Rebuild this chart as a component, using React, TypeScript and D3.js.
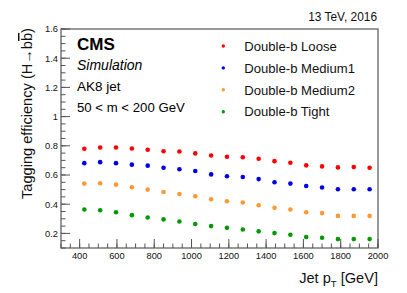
import React, { useEffect, useRef } from 'react';
import * as d3 from 'd3';

// jet pT bin centres (GeV)
const ptBins = [425, 510, 595, 680, 765, 850, 935, 1020, 1105, 1190, 1275, 1360, 1445, 1530, 1615, 1700, 1785, 1870, 1955];

const effLoose = [0.780, 0.788, 0.788, 0.782, 0.773, 0.763, 0.761, 0.748, 0.734, 0.725, 0.722, 0.711, 0.695, 0.684, 0.666, 0.659, 0.652, 0.654, 0.650];
const effMedium1 = [0.681, 0.688, 0.681, 0.671, 0.664, 0.650, 0.639, 0.627, 0.604, 0.591, 0.586, 0.572, 0.550, 0.541, 0.525, 0.514, 0.502, 0.502, 0.502];
const effMedium2 = [0.541, 0.543, 0.534, 0.516, 0.500, 0.484, 0.470, 0.454, 0.434, 0.420, 0.412, 0.393, 0.375, 0.364, 0.345, 0.339, 0.320, 0.320, 0.320];
const effTight = [0.364, 0.359, 0.345, 0.325, 0.309, 0.296, 0.282, 0.264, 0.250, 0.238, 0.227, 0.214, 0.202, 0.191, 0.175, 0.170, 0.161, 0.161, 0.161];

const seriesNames = ['Double-b Loose', 'Double-b Medium1', 'Double-b Medium2', 'Double-b Tight'];
const seriesColors = ['#ff0000', '#0000e6', '#ff9933', '#009900'];
const seriesValues = [effLoose, effMedium1, effMedium2, effTight];

const yTicks = [0.2, 0.4, 0.6, 0.8, 1, 1.2, 1.4, 1.6];
const xTicks = [400, 600, 800, 1000, 1200, 1400, 1600, 1800, 2000];

const W = 407;
const H = 293;
const FONT = '"Liberation Sans", Arial, sans-serif';

const App: React.FC = () => {
  const svgRef = useRef<SVGSVGElement>(null);

  useEffect(() => {
    if (!svgRef.current) return;
    const svg = d3.select(svgRef.current);
    svg.selectAll('*').remove();

    const margin = { top: 29, right: 29, bottom: 45, left: 61 };
    const x = d3.scaleLinear().domain([300, 2000]).range([margin.left, W - margin.right]);
    const y = d3.scaleLinear().domain([0.1, 1.6]).range([H - margin.bottom, margin.top]);

    const frameCol = '#555';

    // frame
    svg.append('rect')
      .attr('x', x(300)).attr('y', y(1.6))
      .attr('width', x(2000) - x(300)).attr('height', y(0.1) - y(1.6))
      .attr('fill', 'none').attr('stroke', frameCol).attr('stroke-width', 1.2);

    // y axis ticks (inside)
    const yMinor = d3.range(0.1, 1.6001, 0.05);
    svg.append('g').selectAll('line').data(yMinor).enter().append('line')
      .attr('x1', x(300)).attr('x2', x(300) + 4.5)
      .attr('y1', d => y(d)).attr('y2', d => y(d))
      .attr('stroke', frameCol).attr('stroke-width', 1);
    svg.append('g').selectAll('line').data(yTicks).enter().append('line')
      .attr('x1', x(300)).attr('x2', x(300) + 9)
      .attr('y1', d => y(d)).attr('y2', d => y(d))
      .attr('stroke', frameCol).attr('stroke-width', 1);
    svg.append('g').selectAll('text').data(yTicks).enter().append('text')
      .attr('x', x(300) - 3).attr('y', d => y(d) + 3.3)
      .attr('text-anchor', 'end')
      .style('font-family', FONT).style('font-size', '9.3px').attr('fill', '#111')
      .text(d => d3.format('~g')(d));

    // x axis ticks (inside)
    const xMinor = d3.range(300, 2001, 50);
    svg.append('g').selectAll('line').data(xMinor).enter().append('line')
      .attr('x1', d => x(d)).attr('x2', d => x(d))
      .attr('y1', y(0.1)).attr('y2', y(0.1) - 4.5)
      .attr('stroke', frameCol).attr('stroke-width', 1);
    svg.append('g').selectAll('line').data(xTicks).enter().append('line')
      .attr('x1', d => x(d)).attr('x2', d => x(d))
      .attr('y1', y(0.1)).attr('y2', y(0.1) - 9)
      .attr('stroke', frameCol).attr('stroke-width', 1);
    svg.append('g').selectAll('text').data(xTicks).enter().append('text')
      .attr('x', d => x(d)).attr('y', y(0.1) + 10.5)
      .attr('text-anchor', 'middle')
      .style('font-family', FONT).style('font-size', '9.3px').attr('fill', '#111')
      .text(d => String(d));

    // axis titles
    const xt = svg.append('text')
      .attr('x', x(2000)).attr('y', 283)
      .attr('text-anchor', 'end')
      .style('font-family', FONT).style('font-size', '14.6px').attr('fill', '#111');
    xt.append('tspan').text('Jet p');
    xt.append('tspan').attr('dy', 4).style('font-size', '9.5px').text('T');
    xt.append('tspan').attr('dy', -4).text(' [GeV]');

    const yt = svg.append('text')
      .attr('transform', `translate(32,${y(1.6) - 1}) rotate(-90)`)
      .attr('text-anchor', 'end')
      .style('font-family', FONT).style('font-size', '14.6px').attr('fill', '#111');
    yt.append('tspan').text('Tagging efficiency (H\u2192b');
    yt.append('tspan').style('text-decoration', 'overline').text('b');
    yt.append('tspan').text(')');

    // labels
    const lx = 77;
    svg.append('text').attr('x', lx).attr('y', 50)
      .style('font-family', FONT).style('font-size', '17px').style('font-weight', 'bold')
      .attr('fill', '#000').text('CMS');
    svg.append('text').attr('x', lx).attr('y', 70)
      .style('font-family', FONT).style('font-size', '14px').style('font-style', 'italic')
      .attr('fill', '#000').text('Simulation');
    svg.append('text').attr('x', lx).attr('y', 91)
      .style('font-family', FONT).style('font-size', '13.5px')
      .attr('fill', '#000').text('AK8 jet');
    svg.append('text').attr('x', lx).attr('y', 112)
      .style('font-family', FONT).style('font-size', '13.2px')
      .attr('fill', '#000').text('50 < m < 200 GeV');
    svg.append('text').attr('x', x(2000) - 1).attr('y', 21)
      .attr('text-anchor', 'end')
      .style('font-family', FONT).style('font-size', '11.9px')
      .attr('fill', '#111').text('13 TeV, 2016');

    // legend
    const leg = svg.append('g').selectAll('g').data(seriesNames).enter().append('g')
      .attr('transform', (_d, i) => `translate(223.3,${46 + i * 21.9})`);
    leg.append('circle').attr('r', 1.7).attr('fill', (_d, i) => seriesColors[i]);
    leg.append('text').attr('x', 21).attr('y', 4.7)
      .style('font-family', FONT).style('font-size', '13.1px').attr('fill', '#111')
      .text(d => d);

    // points
    seriesValues.forEach((vals, si) => {
      svg.append('g').selectAll('circle').data(vals).enter().append('circle')
        .attr('cx', (_d, i) => x(ptBins[i]))
        .attr('cy', d => y(d))
        .attr('r', 2.3)
        .attr('fill', seriesColors[si]);
    });
  }, []);

  return (
    <svg ref={svgRef} width={W} height={H}
      style={{ position: 'absolute', left: 0, top: 0, background: '#fff' }} />
  );
};

export default App;
